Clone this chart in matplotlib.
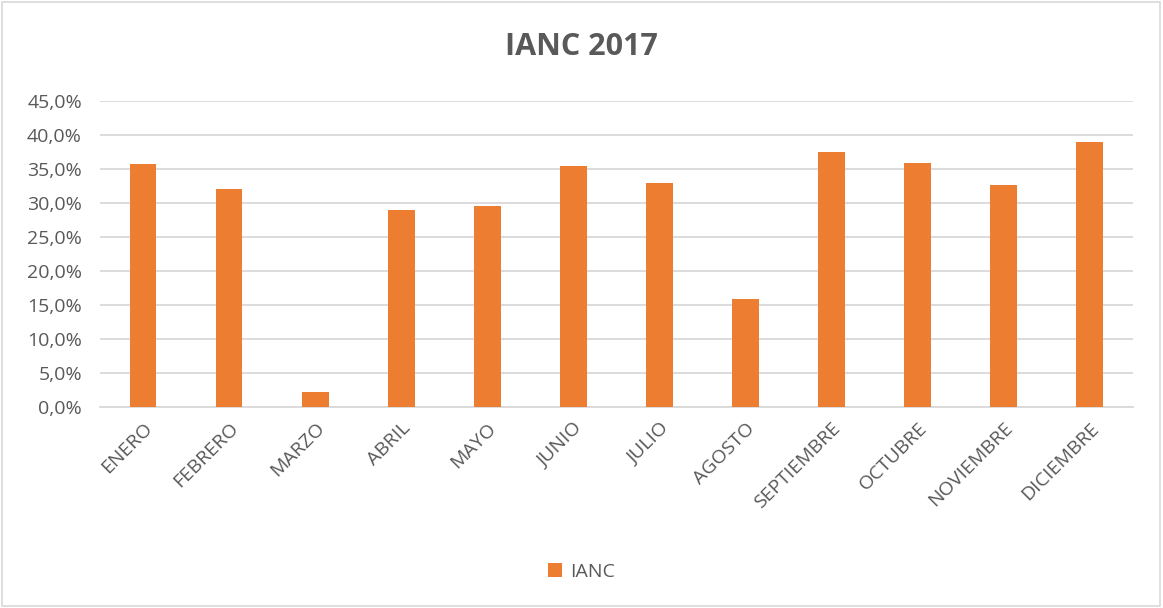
import matplotlib
matplotlib.use('Agg')
import matplotlib.pyplot as plt
from matplotlib.patches import Rectangle
from matplotlib.ticker import FuncFormatter

plt.rcParams['font.family'] = ['Open Sans', 'DejaVu Sans']

# datos (IANC mensual 2017, en %)
meses = ['ENERO', 'FEBRERO', 'MARZO', 'ABRIL', 'MAYO', 'JUNIO', 'JULIO',
         'AGOSTO', 'SEPTIEMBRE', 'OCTUBRE', 'NOVIEMBRE', 'DICIEMBRE']
ianc = [35.7, 32.0, 2.2, 29.0, 29.5, 35.4, 32.9, 15.9, 37.5, 35.9, 32.7, 38.9]
yticks = [0, 5, 10, 15, 20, 25, 30, 35, 40, 45]

NARANJA = '#ED7D31'
GRIS_TXT = '#595959'
GRIS_LIN = '#D9D9D9'

fig = plt.figure(figsize=(11.63, 6.08), dpi=100)
ax = fig.add_axes([0.086, 0.331, 0.888, 0.503])

x = range(len(meses))
ax.bar(x, ianc, width=0.31, color=NARANJA, label='IANC', zorder=3)

ax.set_xlim(-0.5, len(meses) - 0.5)
ax.set_ylim(0, 45)
ax.set_yticks(yticks)
ax.yaxis.set_major_formatter(FuncFormatter(lambda v, _: f'{v:.1f}%'.replace('.', ',')))
ax.set_xticks(list(x))
ax.set_xticklabels(meses, rotation=45, ha='right', rotation_mode='anchor')
ax.tick_params(axis='both', length=0, colors=GRIS_TXT, labelsize=14)
ax.tick_params(axis='x', pad=9)
ax.tick_params(axis='y', pad=13)
ax.grid(axis='y', color=GRIS_LIN, lw=1.3, zorder=0)
for s in ['top', 'right', 'left']:
    ax.spines[s].set_visible(False)
ax.spines['bottom'].set_color(GRIS_LIN)
ax.spines['bottom'].set_linewidth(1.3)

fig.text(0.5, 0.922, 'IANC 2017', ha='center', va='center', fontsize=22,
         fontweight='bold', color=GRIS_TXT)

fig.legend(loc='center', bbox_to_anchor=(0.5, 0.06), frameon=False, fontsize=14,
           handlelength=0.7, handleheight=0.7, handletextpad=0.4, labelcolor=GRIS_TXT)

# marco del gráfico
fig.patches.append(Rectangle((0.002, 0.003), 0.995, 0.994, transform=fig.transFigure,
                             fill=False, edgecolor=GRIS_LIN, lw=1.2))

fig.savefig('out.png', dpi=100)
